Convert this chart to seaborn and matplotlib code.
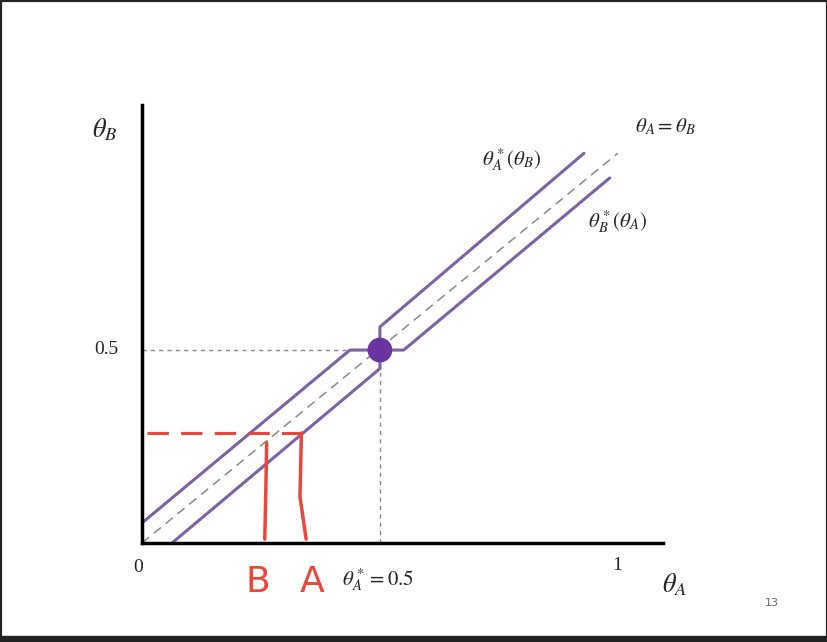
import matplotlib
matplotlib.use("Agg")
import matplotlib.pyplot as plt
import seaborn as sns
from matplotlib.patches import Rectangle

sns.set_theme(style="white")
plt.rcParams['font.family'] = ['DejaVu Serif']
plt.rcParams['mathtext.fontset'] = 'stix'

# data
diag_x = [0.0, 1.0]
diag_y = [0.0, 1.01]
upper_x = [0.0, 0.437, 0.5, 0.5, 0.929]
upper_y = [0.052, 0.5, 0.5, 0.56, 1.01]
lower_x = [0.063, 0.496, 0.496, 0.5, 0.55, 0.983]
lower_y = [0.0, 0.448, 0.448, 0.5, 0.5, 0.946]
lower_x = [0.063, 0.5, 0.5, 0.55, 0.983]
lower_y = [0.0, 0.452, 0.5, 0.5, 0.946]
eq_x = [0.5]
eq_y = [0.5]
red_h_x = [0.01, 0.335]
red_h_y = [0.285, 0.285]
red_v1_x = [0.262, 0.26, 0.258]
red_v1_y = [0.26, 0.12, 0.01]
red_v2_x = [0.335, 0.332, 0.345]
red_v2_y = [0.285, 0.12, 0.01]

W, H = 828, 642
fig = plt.figure(figsize=(W/100, H/100), dpi=100)
fig.patch.set_facecolor('white')
ax = fig.add_axes([142/W, (H-543)/H, (663-142)/W, (543-105)/H])
ax.set_xlim(0, 1.095)
ax.set_ylim(0, 1.135)
for s in ['top', 'right']:
    ax.spines[s].set_visible(False)
for s in ['left', 'bottom']:
    ax.spines[s].set_color('black')
    ax.spines[s].set_linewidth(2.5)
ax.set_xticks([]); ax.set_yticks([])
ax.patch.set_alpha(0)

purple = '#7B62A3'
ax.plot(diag_x, diag_y, color='#888888', lw=1.1, linestyle=(0, (6, 4)))
ax.plot([0, 0.5], [0.5, 0.5], color='#888888', lw=1.0, linestyle=(0, (3, 3)))
ax.plot([0.5, 0.5], [0, 0.5], color='#888888', lw=1.0, linestyle=(0, (3, 3)))
ax.plot(upper_x, upper_y, color=purple, lw=2.2)
ax.plot(lower_x, lower_y, color=purple, lw=2.2)
sns.scatterplot(x=eq_x, y=eq_y, ax=ax, s=320, color='#6A35A0', zorder=5, edgecolor='none')
red = '#E8473A'
ax.plot(red_h_x, red_h_y, color=red, lw=2.2, linestyle=(0, (7, 4)), clip_on=False)
ax.plot(red_v1_x, red_v1_y, color=red, lw=2.5, clip_on=False)
ax.plot(red_v2_x, red_v2_y, color=red, lw=2.5, clip_on=False)

def t(x, y, s, size=15, **kw):
    fig.text(x/W, 1-y/H, s, fontsize=size, ha='center', va='center', **kw)

t(105, 130, r'$\theta_B$', 19)
t(106, 350, '0.5', 14, family='Liberation Serif')
t(138, 568, '0', 14, family='Liberation Serif')
t(617, 565, '1', 14, family='Liberation Serif')
t(675, 585, r'$\theta_A$', 19)
t(378, 580, r'$\theta_A^* = 0.5$', 15)
t(665, 127, r'$\theta_A = \theta_B$', 15)
t(512, 160, r'$\theta_A^*(\theta_B)$', 15)
t(618, 222, r'$\theta_B^*(\theta_A)$', 15)
t(772, 603, '13', 8, color='#666666', family='DejaVu Sans')
t(258, 582, 'B', 26, color=red, family='DejaVu Sans')
t(312, 582, 'A', 26, color=red, family='DejaVu Sans')

fig.patches.append(Rectangle((0, 0), 1, 1, transform=fig.transFigure, fill=False,
                             edgecolor='#222222', lw=3))
fig.patches.append(Rectangle((0, 0), 1, 6/H, transform=fig.transFigure,
                             color='#222222'))
fig.savefig('out.png', dpi=100)
